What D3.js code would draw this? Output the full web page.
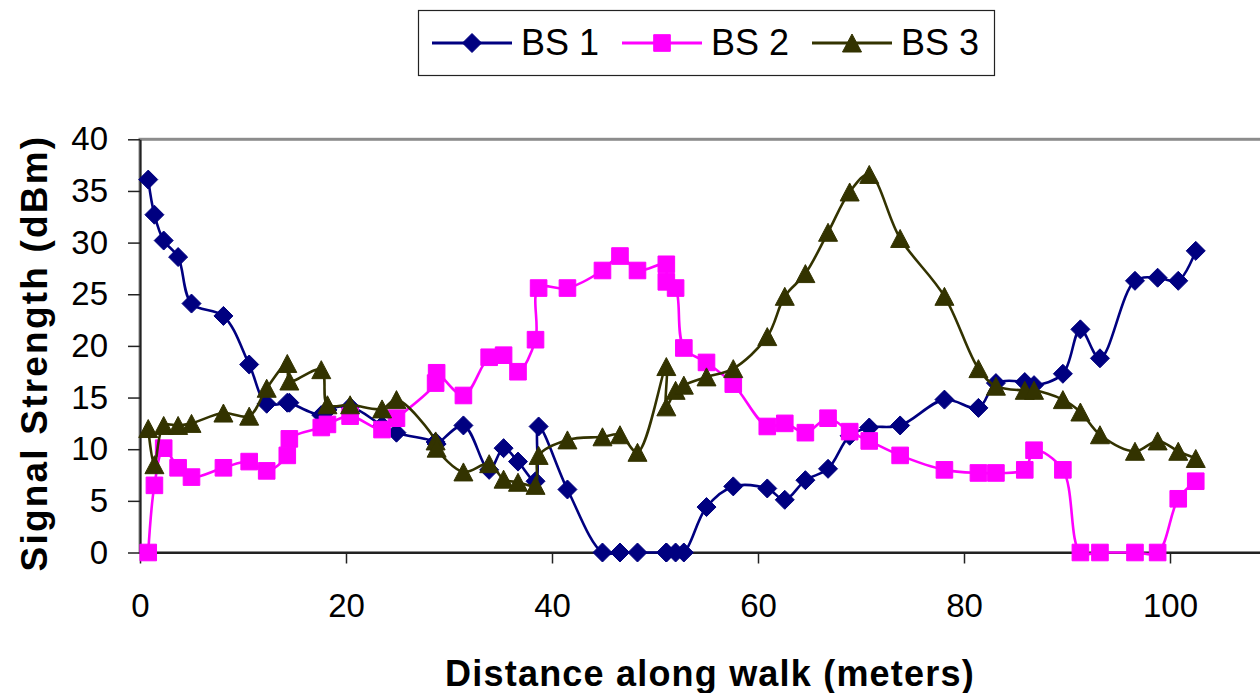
<!DOCTYPE html>
<html>
<head>
<meta charset="utf-8">
<script src="https://cdn.jsdelivr.net/npm/d3@7"></script>
<style>
  html, body { margin: 0; padding: 0; background: #fff; }
  svg { display: block; font-family: "Liberation Sans", Arial, sans-serif; }
</style>
</head>
<body>
<div id="chart"></div>
<script>
// walk positions shared by all three base stations (meters)
var distance = [0.8, 1.4, 2.3, 3.7, 5.0, 8.1, 10.6, 12.3, 14.3, 14.5,
                17.6, 18.2, 20.4, 23.5, 24.9, 28.7, 28.8, 31.4, 33.9, 35.3,
                36.7, 38.4, 38.7, 41.5, 44.9, 46.6, 48.3, 51.1, 51.1, 52.0,
                52.8, 55.0, 57.6, 60.9, 62.6, 64.6, 66.8, 68.9, 70.8, 73.8,
                78.1, 81.4, 83.1, 85.9, 86.8, 89.6, 91.3, 93.2, 96.6, 98.8,
                100.8, 102.5];

var bs1 = [36.1, 32.7, 30.2, 28.6, 24.1, 22.9, 18.2, 14.4, 14.5, 14.5,
           13.3, 13.8, 14.1, 12.3, 11.6, 10.7, 10.5, 12.3, 8.0, 10.1,
           8.8, 6.9, 12.2, 6.1, 0, 0, 0, 0, 0, 0,
           0, 4.4, 6.4, 6.2, 5.1, 7.0, 8.1, 11.3, 12.1, 12.3,
           14.8, 14.0, 16.4, 16.5, 16.2, 17.3, 21.6, 18.8, 26.3, 26.6,
           26.3, 29.2];

var bs2 = [0, 6.5, 10.1, 8.2, 7.3, 8.2, 8.8, 7.9, 9.4, 11.0,
           12.1, 12.4, 13.2, 11.9, 13.0, 16.4, 17.4, 15.2, 18.9, 19.1,
           17.5, 20.6, 25.6, 25.6, 27.3, 28.7, 27.3, 27.9, 26.2, 25.6,
           19.8, 18.4, 16.3, 12.2, 12.5, 11.6, 13.0, 11.7, 10.8, 9.4,
           8.0, 7.7, 7.7, 8.0, 9.9, 8.0, 0, 0, 0, 0,
           5.2, 6.9];

var bs3 = [12.0, 8.5, 12.3, 12.3, 12.5, 13.5, 13.2, 15.9, 18.3, 16.6,
           17.7, 14.3, 14.3, 13.9, 14.8, 10.8, 10.1, 7.8, 8.6, 7.1,
           6.8, 6.5, 9.4, 10.9, 11.2, 11.4, 9.7, 18.0, 14.1, 15.7,
           16.2, 17.0, 17.8, 20.9, 24.8, 27.0, 31.0, 34.9, 36.6, 30.4,
           24.8, 17.8, 16.1, 15.7, 15.7, 14.8, 13.6, 11.4, 9.8, 10.8,
           9.8, 9.1];

var seriesNames = ["BS 1", "BS 2", "BS 3"];
var xTicks = [0, 20, 40, 60, 80, 100];
var yTicks = [0, 5, 10, 15, 20, 25, 30, 35, 40];

var width = 1260, height = 693;

var series = [
  {name: seriesNames[0], values: bs1, color: "#000080", marker: "diamond"},
  {name: seriesNames[1], values: bs2, color: "#ff00ff", marker: "square"},
  {name: seriesNames[2], values: bs3, color: "#333300", marker: "triangle"}
];

// x axis runs to 120, the right part falls outside the picture
var x = d3.scaleLinear().domain([0, 120]).range([140, 1376]);
var y = d3.scaleLinear().domain([0, 40]).range([552.5, 139.3]);

// marker shapes centred on 0,0
function markerPath(type) {
  if (type == "diamond") return "M0,-9.5L9.5,0L0,9.5L-9.5,0Z";
  if (type == "square") return "M-8.3,-8.3H8.3V8.3H-8.3Z";
  return "M0,-9L9.5,9L-9.5,9Z";
}

var svg = d3.select("#chart").append("svg")
    .attr("width", width)
    .attr("height", height);

// plot area frame
svg.append("rect")
    .attr("x", x(0))
    .attr("y", y(40))
    .attr("width", x(120) - x(0))
    .attr("height", y(0) - y(40))
    .attr("fill", "none")
    .attr("stroke", "#8c8c8c")
    .attr("stroke-width", 3);

var yAxis = svg.append("g")
    .attr("transform", "translate(" + x(0) + ",0)")
    .call(d3.axisLeft(y).tickValues(yTicks).tickSize(12).tickSizeOuter(0).tickPadding(20));

var xAxis = svg.append("g")
    .attr("transform", "translate(0," + y(0) + ")")
    .call(d3.axisBottom(x).tickValues(xTicks).tickSize(11).tickSizeOuter(0).tickPadding(30));

[yAxis, xAxis].forEach(function(g) {
  g.select(".domain").attr("stroke", "#222").attr("stroke-width", 2);
  g.selectAll(".tick line").attr("stroke", "#222").attr("stroke-width", 1.5);
  g.selectAll(".tick text")
      .attr("fill", "#000")
      .style("font-size", "33px")
      .style("font-family", "'Liberation Sans', Arial, sans-serif");
});

// lines and markers
var line = d3.line()
    .x(function(d) { return x(d[0]); })
    .y(function(d) { return y(d[1]); })
    .curve(d3.curveCatmullRom.alpha(0.5));

series.forEach(function(s) {
  var pts = distance.map(function(dv, i) { return [dv, s.values[i]]; });
  var g = svg.append("g").attr("class", "series");
  g.append("path")
      .attr("d", line(pts))
      .attr("fill", "none")
      .attr("stroke", s.color)
      .attr("stroke-width", 2.6)
      .attr("stroke-linejoin", "round");
  g.selectAll(".mark")
      .data(pts)
      .enter().append("path")
      .attr("class", "mark")
      .attr("d", markerPath(s.marker))
      .attr("transform", function(d) { return "translate(" + x(d[0]) + "," + y(d[1]) + ")"; })
      .attr("fill", s.color)
      .attr("stroke", s.color)
      .attr("stroke-width", 1)
      .attr("stroke-linejoin", "round");
});

// axis titles
svg.append("text")
    .attr("x", 710)
    .attr("y", 686)
    .attr("text-anchor", "middle")
    .style("font-size", "36px")
    .style("font-weight", "bold")
    .style("letter-spacing", "1.2px")
    .text("Distance along walk (meters)");

svg.append("text")
    .attr("transform", "translate(47,353) rotate(-90)")
    .attr("text-anchor", "middle")
    .style("font-size", "37px")
    .style("font-weight", "bold")
    .style("letter-spacing", "2.2px")
    .text("Signal Strength (dBm)");

// legend
var legend = svg.append("g");
legend.append("rect")
    .attr("x", 418.5)
    .attr("y", 10.5)
    .attr("width", 576)
    .attr("height", 65)
    .attr("fill", "#fff")
    .attr("stroke", "#222")
    .attr("stroke-width", 1.2);

var legendX = [432, 622, 812];
series.forEach(function(s, i) {
  var lx = legendX[i];
  legend.append("line")
      .attr("x1", lx).attr("x2", lx + 80)
      .attr("y1", 43).attr("y2", 43)
      .attr("stroke", s.color)
      .attr("stroke-width", 2.8);
  legend.append("path")
      .attr("d", markerPath(s.marker))
      .attr("transform", "translate(" + (lx + 40) + ",43)")
      .attr("fill", s.color)
      .attr("stroke", s.color)
      .attr("stroke-width", 1);
  legend.append("text")
      .attr("x", lx + 89)
      .attr("y", 55)
      .style("font-size", "36px")
      .text(s.name);
});
</script>
</body>
</html>
